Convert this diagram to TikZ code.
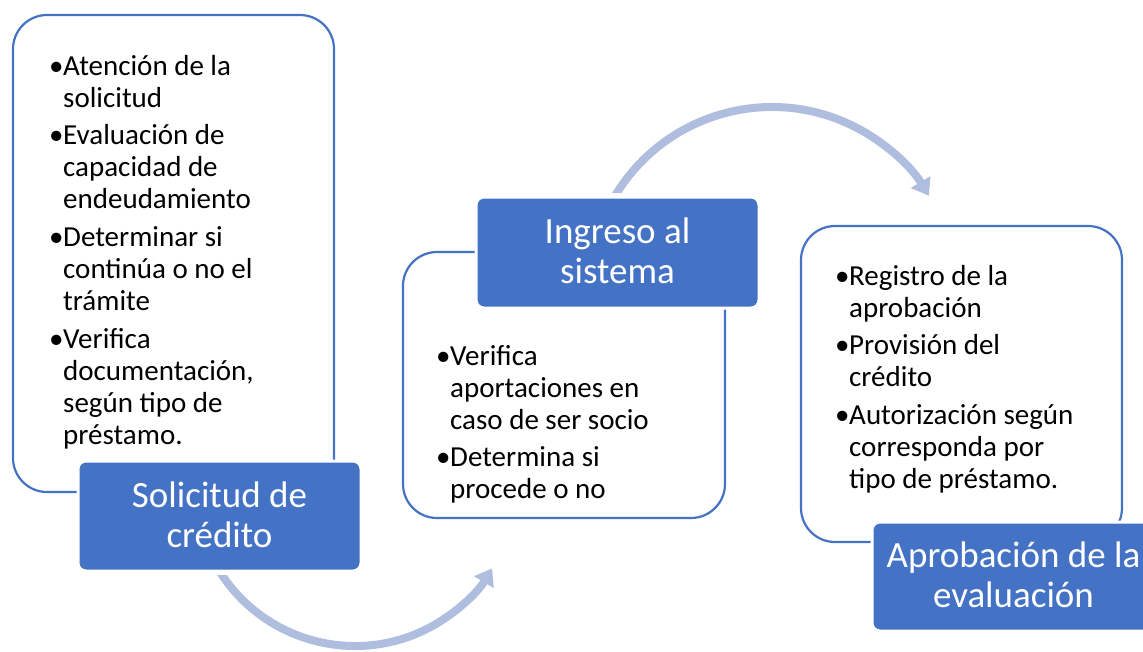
\documentclass[tikz,border=0pt]{standalone}
\usepackage{fontspec}
\setmainfont{Carlito}
\usetikzlibrary{arrows.meta}
\definecolor{accent}{RGB}{68,114,196}
\definecolor{arrowblue}{RGB}{175,189,222}
\newcommand\bulletmark{\makebox[14pt][l]{•}}
\newcommand\hangpad{\hspace*{14pt}}
\begin{document}
\begin{tikzpicture}[x=1pt,y=1pt,
  panel/.style={draw=accent, line width=2.2pt, rounded corners=34pt, fill=white, inner sep=0pt},
  titlebox/.style={fill=accent, draw=white, line width=3pt, rounded corners=8pt, inner sep=0pt, minimum width=283pt},
  bodytext/.style={inner sep=0pt, anchor=base west, text=black},
  titletext/.style={inner sep=0pt, anchor=base, text=white},
  flow/.style={draw=arrowblue, line width=8pt, -{Triangle[length=16pt,width=22pt]}},
]
\useasboundingbox (0,0) rectangle (1143,-651);
\clip (0,0) rectangle (1143,-651);

% white panels
\node[panel, minimum width=321pt, minimum height=477pt] (p1) at (173.5,-253.5) {};
\node[panel, minimum width=322pt, minimum height=266pt] (p2) at (564,-385) {};
\node[panel, minimum width=321pt, minimum height=316pt] (p3) at (961.5,-384) {};

% flow arrows (tails cut horizontally)
\begin{scope}
\clip (0,-575) rectangle (360,-651) (360,-400) rectangle (1143,-651);
\coordinate (a1s) at (216.4,-566);
\draw[flow] (a1s) arc[start angle=210, end angle=329, radius=160];
\end{scope}
\begin{scope}
\clip (0,0) rectangle (700,-193) (700,0) rectangle (1143,-400);
\coordinate (a2s) at (610.4,-204.1);
\draw[flow] (a2s) arc[start angle=152, end angle=31, radius=183];
\end{scope}

% title boxes
\node[titlebox, minimum height=110pt] (d1) at (219.5,-516) {};
\node[titlebox, minimum height=111pt] (d2) at (617.5,-252.5) {};
\node[titlebox, minimum height=109pt] (d3) at (1013.5,-576.5) {};

% title texts
\node[titletext] (l1) at (219.5,-507) {\parbox[t]{280pt}{\centering\fontsize{37}{40}\selectfont Solicitud de\\crédito}};
\node[titletext] (l2) at (617.5,-243) {\parbox[t]{280pt}{\centering\fontsize{37}{40}\selectfont Ingreso al\\sistema}};
\node[titletext] (l3) at (1013.5,-567) {\parbox[t]{280pt}{\centering\fontsize{37}{40}\selectfont Aprobación de la\\evaluación}};

% body texts
\node[bodytext] (t1) at (49,-75) {\parbox[t]{280pt}{\raggedright\fontsize{29}{32}\selectfont
\bulletmark Atención de la\\
\hangpad solicitud\\[5.7pt]
\bulletmark Evaluación de\\
\hangpad capacidad de\\
\hangpad endeudamiento\\[5.7pt]
\bulletmark Determinar si\\
\hangpad continúa o no el\\
\hangpad trámite\\[5.7pt]
\bulletmark Verifica\\
\hangpad documentación,\\
\hangpad según tipo de\\
\hangpad préstamo.}};

\node[bodytext] (t2) at (436,-365) {\parbox[t]{280pt}{\raggedright\fontsize{29}{32}\selectfont
\bulletmark Verifica\\
\hangpad aportaciones en\\
\hangpad caso de ser socio\\[5.7pt]
\bulletmark Determina si\\
\hangpad procede o no}};

\node[bodytext] (t3) at (835,-285) {\parbox[t]{280pt}{\raggedright\fontsize{29}{32}\selectfont
\bulletmark Registro de la\\
\hangpad aprobación\\[5.7pt]
\bulletmark Provisión del\\
\hangpad crédito\\[5.7pt]
\bulletmark Autorización según\\
\hangpad corresponda por\\
\hangpad tipo de préstamo.}};
\end{tikzpicture}
\end{document}
